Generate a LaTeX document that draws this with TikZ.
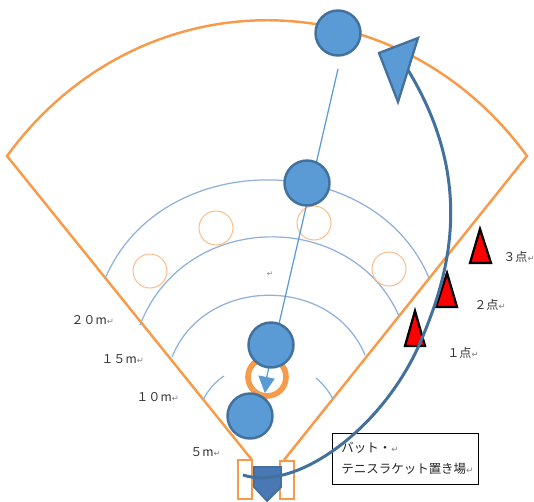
\documentclass[tikz,border=0pt]{standalone}
\usepackage{fontspec}
\setmainfont{Noto Sans CJK JP}
\newfontfamily\markfont{DejaVu Sans}
\usepackage{xcolor}
\usepackage{tikz}
\usetikzlibrary{positioning,shapes}
\definecolor{courtline}{HTML}{F79B4B}
\definecolor{ringline}{HTML}{FAC090}
\definecolor{arcline}{HTML}{8FB0DC}
\definecolor{playerfill}{HTML}{5B9BD5}
\definecolor{playerline}{HTML}{41719C}
\definecolor{platefill}{HTML}{4A78B4}
\newcommand{\retmark}{{\markfont\textcolor{gray}{\scalebox{0.7}{↵}}}}
\tikzset{
  player/.style={circle,draw=playerline,fill=playerfill,line width=1.4pt,minimum size=0.9cm,inner sep=0pt},
  ringmark/.style={circle,draw=ringline,line width=0.6pt,minimum size=0.68cm,inner sep=0pt},
  cone/.style={draw=black,fill=red,line width=1.3pt,line join=miter},
  distlabel/.style={anchor=west,inner sep=0pt,font=\fontsize{6.9}{9}\selectfont,text=black!80},
}
\begin{document}
\begin{tikzpicture}[x=0.02cm,y=-0.02cm]
        \useasboundingbox (0,0) rectangle (534,501);
        %court
            \coordinate (lt) at (7,156);
            \coordinate (rt) at (527,156);
            \coordinate (lb) at (252,460);
            \coordinate (rb) at (284,460);
            \draw[courtline,line width=1.4pt] (lb) to (lt) .. controls (139,-25) and (395,-25) .. (rt) to (rb);

        %distance arcs
            \draw[arcline,line width=0.7pt] (105,279) .. controls (160,147) and (374,147) .. (429,278);
            \draw[arcline,line width=0.7pt] (140,325) .. controls (185,209) and (352,209) .. (399,316);
            \draw[arcline,line width=0.7pt] (172,357) .. controls (205,275) and (332,275) .. (365,355);
            \draw[arcline,line width=0.7pt] (203,400) .. controls (208,390) and (215,382) .. (224,376);
            \draw[arcline,line width=0.7pt] (333,399) .. controls (328,390) and (323,384) .. (316,378);

        %targets
            \draw (216,228) node(ma) [ringmark] {}
                  (150,271) node(mb) [ringmark] {}
                  (314,223) node(mc) [ringmark] {}
                  (389,269) node(md) [ringmark] {};
            \draw (267,377) node(mr) [circle,draw=courtline,line width=3.2pt,minimum size=0.76cm,inner sep=0pt] {};

        %throw line
            \coordinate (ls) at (338,69);
            \coordinate (le) at (266,380);
            \draw[playerfill,line width=0.7pt] (ls) to (le);
            \draw[fill=playerfill,draw=playerfill,line width=0.5pt] (259,376) -- (274,379) -- (265,392) -- cycle;

        %players
            \draw (338,33) node(pa) [player] {}
                  (307,183) node(pb) [player] {}
                  (271,345) node(pc) [player] {}
                  (250,416) node(pd) [player] {};

        %plate and boxes
            \draw[courtline,line width=1.2pt,fill=white] (238,460) rectangle (252,499);
            \draw[courtline,line width=1.2pt,fill=white] (280,461) rectangle (294,499);
            \draw[draw=playerline,fill=platefill,line width=1pt] (254,467) -- (281,467) -- (281,487) -- (267,501) -- (254,487) -- cycle;

        %cones
            \draw[cone] (480,229) -- (470,263) -- (491,263) -- cycle;
            \draw[cone] (447,273) -- (436,307) -- (457,307) -- cycle;
            \draw[cone] (415,311) -- (405,346) -- (425,346) -- cycle;

        %labels
            \draw (71,320) node(da) [distlabel] {２０m\retmark}
                  (101,359) node(db) [distlabel] {１５m\retmark}
                  (136,397) node(dc) [distlabel] {１０m\retmark}
                  (190,452) node(dd) [distlabel] {５m\retmark}
                  (447,353) node(sa) [distlabel] {１点\retmark}
                  (474,305) node(sb) [distlabel] {２点\retmark}
                  (503,257) node(sc) [distlabel] {３点\retmark};
            \draw (270,274) node(ce) [inner sep=0pt] {\scalebox{0.6}{\retmark}};
            \draw (405,458.5) node(box) [draw=black,fill=white,line width=0.5pt,minimum width=2.92cm,minimum height=1.02cm,inner sep=0pt,align=left,text=black!85,font=\fontsize{7.1}{12.4}\selectfont] {\hspace*{2.8pt}バット・\retmark\\\hspace*{2.8pt}テニスラケット置き場\retmark};

        %run
            \coordinate (rs) at (243,475);
            \coordinate (re) at (408,70);
            \draw[playerline,line width=1.7pt] (rs) .. controls (295,492) and (382,430) .. (420,343) .. controls (447,280) and (478,185) .. (re);
            \draw[fill=playerfill,draw=playerline,line width=1.3pt] (418,38) -- (379,53) -- (398,102) -- cycle;
        \end{tikzpicture}
\end{document}
